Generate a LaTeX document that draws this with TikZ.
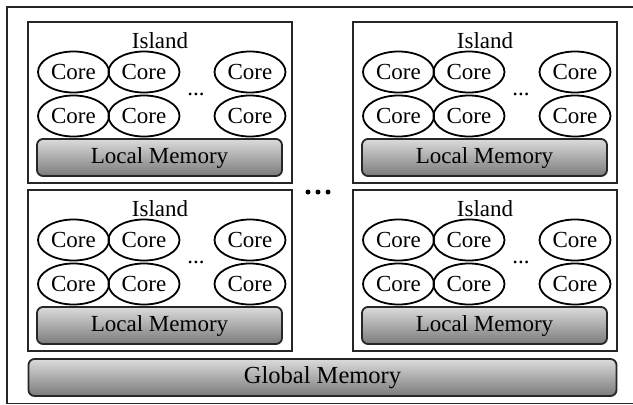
\documentclass[tikz,border=0pt]{standalone}
\usepackage{fontspec}
\setmainfont{Liberation Serif}
\usetikzlibrary{shapes.geometric}
\tikzset{
  every picture/.style={x=1pt,y=-1pt},
  frame/.style={draw=black!85,line width=1.8pt},
  islandbox/.style={draw=black!85,line width=1.8pt,minimum width=264pt,minimum height=161pt,inner sep=0pt},
  corenode/.style={ellipse,draw=black,line width=1.8pt,minimum width=71pt,minimum height=41pt,inner sep=0pt,font=\fontsize{23}{25}\selectfont},
  membox/.style={draw=black!85,line width=1.8pt,rounded corners=6pt,top color=black!14,bottom color=black!52,inner sep=0pt,font=\fontsize{23}{25}\selectfont},
  lbl/.style={inner sep=0pt,font=\fontsize{23}{25}\selectfont},
  bigdot/.style={circle,fill=black,inner sep=0pt,minimum size=5pt}
}
\begin{document}
\begin{tikzpicture}
\useasboundingbox (0,0) rectangle (633,405);
\clip (0,0) rectangle (633,405);
\fill[white] (0,0) rectangle (633,405);
\draw[frame] (7,7) rectangle (650,403.5);
\foreach \dx/\dy/\i in {0/0/a,325/0/b,0/168/c,325/168/d}{
  \begin{scope}[shift={(\dx,\dy)}]
    \node[islandbox] (isl\i) at (160,102.5) {};
    \node[lbl] (title\i) at (160,41) {Island};
    \node[corenode] (c\i11) at (73.5,72) {Core};
    \node[corenode] (c\i12) at (144,72) {Core};
    \node[corenode] (c\i13) at (250,72) {Core};
    \node[corenode] (c\i21) at (73.5,116) {Core};
    \node[corenode] (c\i22) at (144,116) {Core};
    \node[corenode] (c\i23) at (250,116) {Core};
    \node[lbl] (dots\i) at (196,94) {...};
    \node[membox,minimum width=245pt,minimum height=37pt] (lm\i) at (159.5,157.5) {Local Memory};
  \end{scope}
}
\node[bigdot] (d1) at (308,192) {};
\node[bigdot] (d2) at (318,192) {};
\node[bigdot] (d3) at (328,192) {};
\node[membox,minimum width=588pt,minimum height=37pt,font=\fontsize{24.5}{26}\selectfont] (gm) at (322.5,377.5) {Global Memory};
\end{tikzpicture}
\end{document}
